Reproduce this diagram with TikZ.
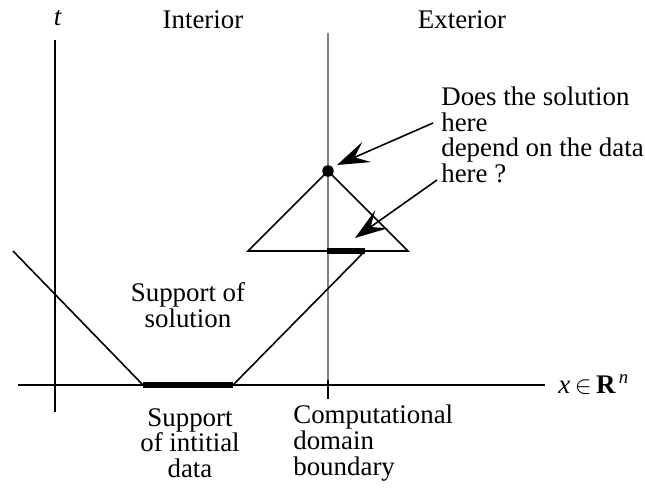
\documentclass[tikz,border=0pt]{standalone}
\usepackage{fontspec}
\setmainfont{Liberation Serif}
\usetikzlibrary{arrows.meta,positioning}

\begin{document}
\begin{tikzpicture}[
    lbl/.style={font=\fontsize{15.3}{14.6}\selectfont, align=center, inner sep=0pt},
    ax/.style={line width=0.9pt},
    sup/.style={line width=3.6pt},
    bnd/.style={line width=1.1pt, black!50},
    ptr/.style={line width=0.9pt, -{Stealth[length=6.5mm, width=4.4mm, inset=2.7mm]}},
    apex/.style={circle, fill=black, inner sep=0pt, minimum size=2.3mm}
  ]
    \useasboundingbox (-1.1,-2.16) rectangle (11.8,7.7);
    % axes and boundary
    \coordinate (tTop) at (0,6.9);
    \coordinate (tBot) at (0,-0.54);
    \coordinate (xL) at (-0.74,0);
    \coordinate (xR) at (9.8,0);
    \coordinate (bTop) at (5.46,7.04);
    \coordinate (bX) at (5.46,0);
    \coordinate (tickA) at (5.46,0.1);
    \coordinate (tickB) at (5.46,-0.28);
    \draw[bnd] (bTop) -- (bX);
    \draw[ax] (tickA) -- (tickB);
    \draw[ax] (tTop) -- (tBot);
    \draw[ax] (xL) -- (xR);
    \node[lbl, font=\fontsize{15.3}{14.6}\selectfont\itshape] (tlab) at (0.05,7.34) {t};
    \node[lbl, anchor=base west] (xlab) at (10.06,-0.16)
      {\textit{x}\,$\in$\,\textbf{R}\textsuperscript{\,\textit{n}}};
    \node[lbl] (int) at (2.96,7.3) {Interior};
    \node[lbl] (ext) at (8.14,7.3) {Exterior};
    % support of solution
    \coordinate (sL) at (-0.84,2.68);
    \coordinate (d0) at (1.76,0);
    \coordinate (d1) at (3.56,0);
    \coordinate (sR) at (6.2,2.68);
    \draw[ax] (sL) -- (d0);
    \draw[ax] (d1) -- (sR);
    \draw[sup] (d0) -- (d1);
    \node[lbl] (sol) at (2.66,1.6) {Support of\\solution};
    \node[lbl] (init) at (2.7,-1.16) {Support\\of intitial\\data};
    \node[lbl, align=left, anchor=west] (cdb) at (4.76,-1.16)
      {Computational\\domain\\boundary};
    % domain of dependence
    \node[apex] (P) at (5.46,4.28) {};
    \coordinate (cL) at (3.86,2.68);
    \coordinate (cR) at (7.06,2.68);
    \coordinate (q0) at (5.44,2.68);
    \coordinate (q1) at (6.2,2.68);
    \draw[ax] (P.center) -- (cL) -- (cR) -- cycle;
    \draw[sup] (q0) -- (q1);
    \node[lbl, align=left, anchor=north west] (ask) at (7.72,5.97)
      {Does the solution\\here\\depend on the data\\here ?};
    \coordinate (a1) at (7.56,5.24);
    \coordinate (h1) at (5.64,4.4);
    \coordinate (a2) at (7.64,4.1);
    \coordinate (h2) at (6.0,2.94);
    \draw[ptr] (a1) -- (h1);
    \draw[ptr] (a2) -- (h2);
  \end{tikzpicture}
\end{document}
